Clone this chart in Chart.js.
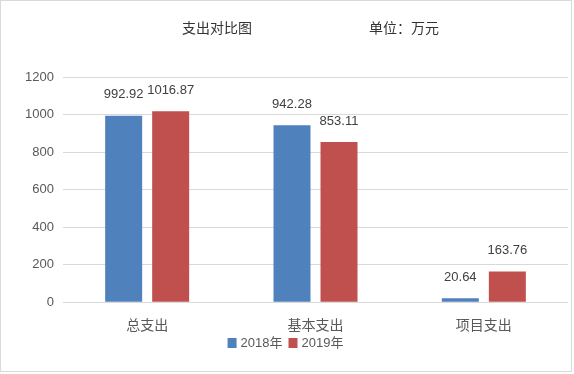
<!DOCTYPE html>
<html>
<head>
<meta charset="utf-8">
<script src="https://cdn.jsdelivr.net/npm/chart.js@4"></script>
<style>
  html, body { margin: 0; padding: 0; background: #fff; }
  .box { width: 570px; height: 370px; border: 1px solid #d9d9d9; background: #fff; }
</style>
</head>
<body>
<div class="box"><canvas id="chart" width="570" height="370"></canvas></div>
<script>
const categories = ["总支出", "基本支出", "项目支出"];
const seriesNames = ["2018年", "2019年"];
const seriesColors = ["#4f81bd", "#c0504d"];
const values2018 = [992.92, 942.28, 20.64];
const values2019 = [1016.87, 853.11, 163.76];
const yTicks = [0, 200, 400, 600, 800, 1000, 1200];

const NUM_FONT = '"Liberation Sans", "Noto Sans CJK SC", sans-serif';
const CJK_FONT = '"Noto Sans CJK SC", sans-serif';

// title + unit text at the top
const headerPlugin = {
  id: "header",
  afterDraw(chart) {
    const ctx = chart.ctx;
    ctx.save();
    ctx.fillStyle = "#333333";
    ctx.font = "14px " + CJK_FONT;
    ctx.textAlign = "left";
    ctx.textBaseline = "middle";
    ctx.fillText("支出对比图", 181, 27);
    ctx.fillText("单位：万元", 368, 27);
    ctx.restore();
  },
};

// value labels above bars
const valueLabels = {
  id: "valueLabels",
  afterDatasetsDraw(chart) {
    const ctx = chart.ctx;
    ctx.save();
    ctx.fillStyle = "#404040";
    ctx.font = "13px " + NUM_FONT;
    ctx.textAlign = "center";
    ctx.textBaseline = "middle";
    chart.data.datasets.forEach((ds, i) => {
      chart.getDatasetMeta(i).data.forEach((bar, j) => {
        ctx.fillText(ds.data[j].toFixed(2), bar.x, bar.y - 21);
      });
    });
    ctx.restore();
  },
};

// small legend under the axis labels
const bottomLegend = {
  id: "bottomLegend",
  afterDraw(chart) {
    const ctx = chart.ctx;
    ctx.save();
    ctx.font = "13px " + NUM_FONT;
    ctx.textBaseline = "middle";
    ctx.textAlign = "left";
    const box = 9, gap = 4, spacing = 6;
    const widths = seriesNames.map((s) => ctx.measureText(s).width);
    let total = 0;
    widths.forEach((w, i) => { total += box + gap + w + (i ? spacing : 0); });
    let x = 284.5 - total / 2;
    const y = 342;
    seriesNames.forEach((name, i) => {
      ctx.fillStyle = seriesColors[i];
      ctx.fillRect(x, y - 5, box, 10);
      ctx.fillStyle = "#595959";
      ctx.fillText(name, x + box + gap, y);
      x += box + gap + widths[i] + spacing;
    });
    ctx.restore();
  },
};

const ctx = document.getElementById("chart").getContext("2d");

const config = {
  type: "bar",
  data: {
    labels: categories,
    datasets: [
      {
        label: seriesNames[0],
        backgroundColor: seriesColors[0],
        data: values2018,
      },
      {
        label: seriesNames[1],
        backgroundColor: seriesColors[1],
        data: values2019,
      },
    ],
  },
  options: {
    responsive: false,
    animation: false,
    categoryPercentage: 0.5585,
    barPercentage: 0.787,
    layout: {
      padding: { top: 76, right: 3, left: 0, bottom: 24 },
    },
    plugins: {
      legend: { display: false },
      tooltip: { enabled: false },
    },
    scales: {
      x: {
        border: { display: false },
        grid: { display: false, drawTicks: false },
        ticks: {
          color: "#595959",
          padding: 14,
          font: { size: 14, family: CJK_FONT },
        },
      },
      y: {
        min: 0,
        max: 1200,
        border: { display: false },
        grid: {
          color: "#d9d9d9",
          lineWidth: 1,
          drawTicks: false,
        },
        afterBuildTicks(scale) {
          scale.ticks = yTicks.map((v) => ({ value: v }));
        },
        ticks: {
          color: "#595959",
          padding: 9,
          font: { size: 13, family: NUM_FONT },
          callback: (v) => String(v),
        },
        afterFit(scale) {
          scale.width = 62;
        },
      },
    },
  },
  plugins: [headerPlugin, valueLabels, bottomLegend],
};

new Chart(ctx, config);
</script>
</body>
</html>
